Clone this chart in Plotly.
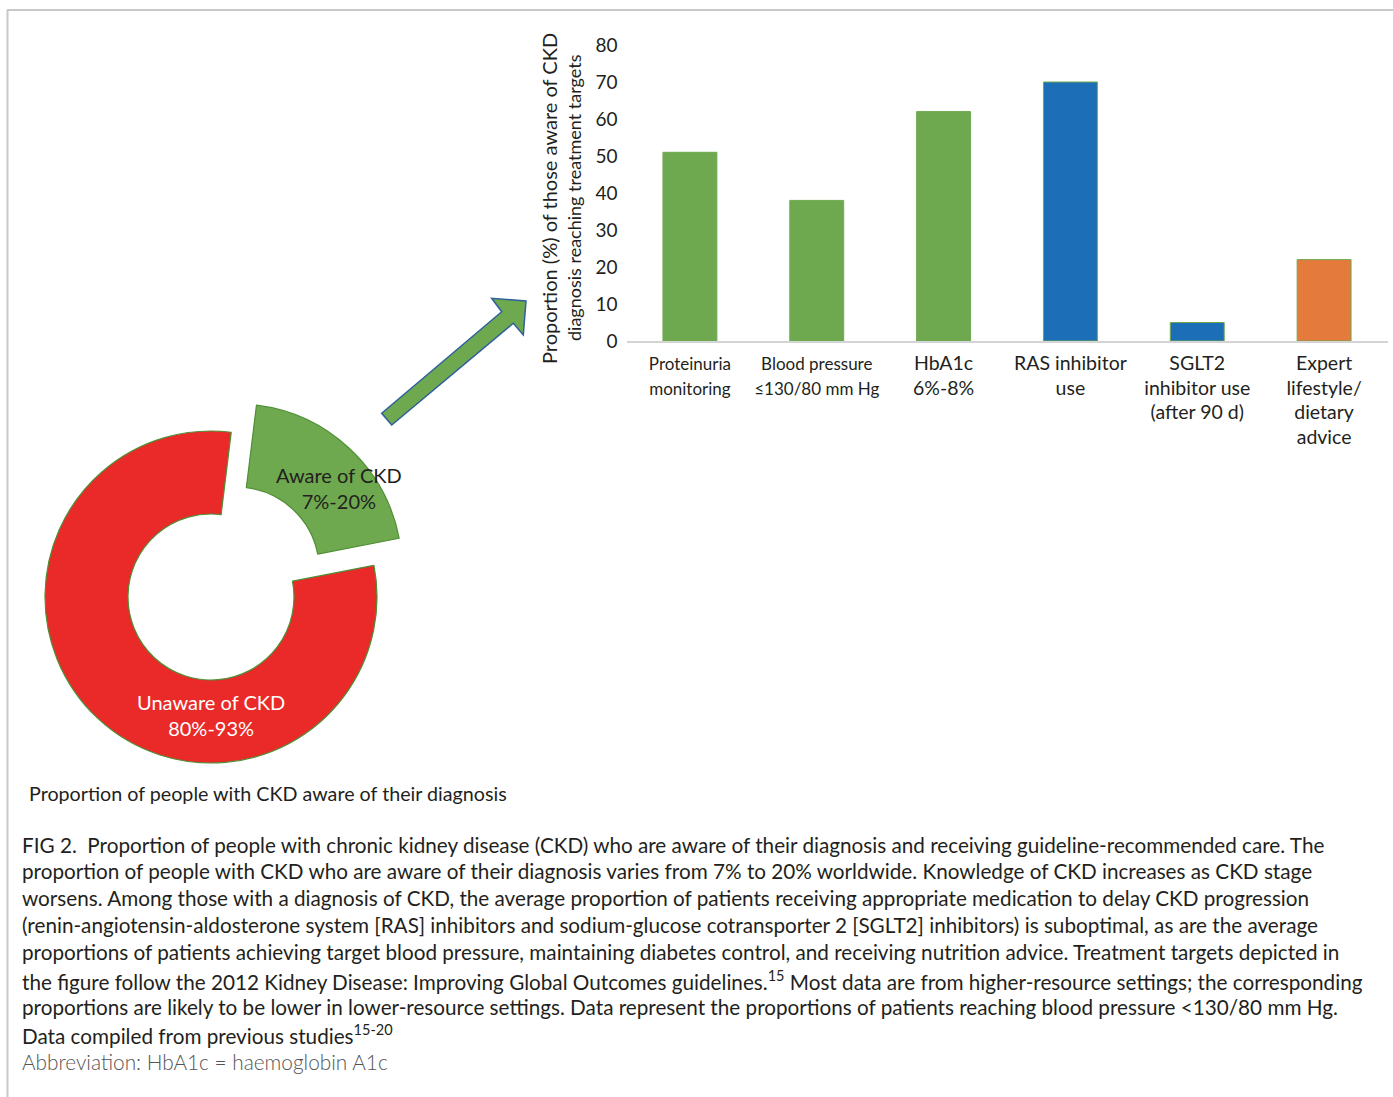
import plotly.graph_objects as go

W, H = 1393, 1097

# ---- data ----
categories = ["Proteinuria<br>monitoring", "Blood pressure<br>≤130/80 mm Hg", "HbA1c<br>6%-8%",
              "RAS inhibitor<br>use", "SGLT2<br>inhibitor use<br>(after 90 d)", "Expert<br>lifestyle/<br>dietary<br>advice"]
values = [51, 38, 62, 70, 5, 22]
bar_colors = ["#6EA94F", "#6EA94F", "#6EA94F", "#1C6FB7", "#1C6FB7", "#E57A3D"]
y_ticks = [0, 10, 20, 30, 40, 50, 60, 70, 80]

pie_labels = ["Aware of CKD", "Unaware of CKD"]
pie_ranges = ["7%-20%", "80%-93%"]
pie_values = [20, 80]
pie_colors = ["#6EA94F", "#E92A29"]

def px(x):
    return x / W

def py(y):
    return 1 - y / H

FONT = "Lato"
TXT = "#231f20"

fig = go.Figure()

# ---- bar chart ----
tick_sizes = [17, 17, 19.5, 19.5, 19.5, 19.5]
ticktext = [f'<span style="font-size:{s}px">{c}</span>' for c, s in zip(categories, tick_sizes)]
fig.add_trace(go.Bar(
    x=list(range(len(categories))), y=values,
    marker=dict(color=bar_colors, line=dict(color="#6EA94F", width=1)),
    width=0.425, xaxis="x", yaxis="y", showlegend=False, hoverinfo="skip",
))

# ---- donut ----
cx, cy, r, pull = 211, 597, 166, 0.223
half = r * (1 + pull)
fig.add_trace(go.Pie(
    labels=pie_labels, values=pie_values, sort=False, direction="clockwise", rotation=7,
    hole=0.5, pull=[pull, 0], textinfo="none", hoverinfo="skip", showlegend=False,
    marker=dict(colors=pie_colors, line=dict(color="#4f8f35", width=1.2)),
    domain=dict(x=[px(cx - half), px(cx + half)], y=[py(cy + half), py(cy - half)]),
))

fig.update_layout(
    template="none",
    width=W, height=H, margin=dict(l=0, r=0, t=0, b=0, pad=0, autoexpand=False),
    showlegend=False,
    paper_bgcolor="white", plot_bgcolor="white",
    font=dict(family=FONT, color=TXT),
    xaxis=dict(domain=[px(626.5), px(1387.5)], range=[-0.5, 5.5], automargin=False,
               tickvals=list(range(len(categories))), ticktext=ticktext,
               showgrid=False, zeroline=False, showline=True, linecolor="#d4d4d4", linewidth=2,
               ticks="", tickfont=dict(size=19, color=TXT, family=FONT), ticklabelstandoff=4),
    yaxis=dict(domain=[py(341), py(45)], range=[0, 80], tickvals=y_ticks, automargin=False,
               showgrid=False, zeroline=False, showline=False, ticks="",
               tickfont=dict(size=19, color=TXT, family=FONT), ticklabelstandoff=8),
)

ann = []
# y-axis title (two lines)
ann.append(dict(x=px(549), y=py(199), xref="paper", yref="paper", text="Proportion (%) of those aware of CKD",
                textangle=-90, showarrow=False, font=dict(size=20, color=TXT, family=FONT),
                xanchor="center", yanchor="middle"))
ann.append(dict(x=px(574), y=py(198), xref="paper", yref="paper", text="diagnosis reaching treatment targets",
                textangle=-90, showarrow=False, font=dict(size=18, color=TXT, family=FONT),
                xanchor="center", yanchor="middle"))
# donut labels
ann.append(dict(x=px(339), y=py(488), xref="paper", yref="paper", xanchor="center", yanchor="middle",
                text=f"{pie_labels[0]}<br>{pie_ranges[0]}", showarrow=False,
                font=dict(size=20, color=TXT, family=FONT), align="center"))
ann.append(dict(x=px(211), y=py(715), xref="paper", yref="paper", xanchor="center", yanchor="middle",
                text=f"{pie_labels[1]}<br>{pie_ranges[1]}", showarrow=False,
                font=dict(size=20, color="white", family=FONT), align="center"))
# sub caption
ann.append(dict(x=px(27), y=py(793), xref="paper", yref="paper", xanchor="left", yanchor="middle",
                text="Proportion of people with CKD aware of their diagnosis", showarrow=False,
                font=dict(size=19.7, color=TXT, family=FONT)))

caption_lines = [
    "FIG 2.  Proportion of people with chronic kidney disease (CKD) who are aware of their diagnosis and receiving guideline-recommended care. The",
    "proportion of people with CKD who are aware of their diagnosis varies from 7% to 20% worldwide. Knowledge of CKD increases as CKD stage",
    "worsens. Among those with a diagnosis of CKD, the average proportion of patients receiving appropriate medication to delay CKD progression",
    "(renin-angiotensin-aldosterone system [RAS] inhibitors and sodium-glucose cotransporter 2 [SGLT2] inhibitors) is suboptimal, as are the average",
    "proportions of patients achieving target blood pressure, maintaining diabetes control, and receiving nutrition advice. Treatment targets depicted in",
    "the figure follow the 2012 Kidney Disease: Improving Global Outcomes guidelines.<sup>15</sup> Most data are from higher-resource settings; the corresponding",
    "proportions are likely to be lower in lower-resource settings. Data represent the proportions of patients reaching blood pressure <130/80 mm Hg.",
    "Data compiled from previous studies<sup>15-20</sup>",
]
line_y = [845, 871, 898, 925, 952, 980, 1007, 1034]
for t, yy in zip(caption_lines, line_y):
    ann.append(dict(x=px(20), y=py(yy), xref="paper", yref="paper", xanchor="left", yanchor="middle",
                    text=t.replace("<130", "&lt;130"), showarrow=False,
                    font=dict(size=20.7, color=TXT, family=FONT)))
ann.append(dict(x=px(20), y=py(1061), xref="paper", yref="paper", xanchor="left", yanchor="middle",
                text="Abbreviation: HbA1c = haemoglobin A1c", showarrow=False,
                font=dict(size=20.8, color="#555555", family="Lato Light, Lato")))
fig.update_layout(annotations=ann)

# ---- arrow and frame ----
arrow_pts = [(381.7, 413.3), (501.7, 311.7), (491.7, 298.3), (526, 301), (523.3, 335), (513.3, 323.3), (391.7, 425)]
path = "M " + " L ".join(f"{px(x):.5f},{py(y):.5f}" for x, y in arrow_pts) + " Z"
shapes = [
    dict(type="path", xref="paper", yref="paper", path=path, fillcolor="#6EA94F",
         line=dict(color="#2F5F9E", width=1.5)),
    dict(type="line", xref="paper", yref="paper", x0=px(7), x1=1, y0=py(10), y1=py(10),
         line=dict(color="#c8c8c8", width=2)),
    dict(type="line", xref="paper", yref="paper", x0=px(7.5), x1=px(7.5), y0=py(10), y1=0,
         line=dict(color="#c8c8c8", width=2)),
]
fig.update_layout(shapes=shapes)

fig.write_html("out.html")
